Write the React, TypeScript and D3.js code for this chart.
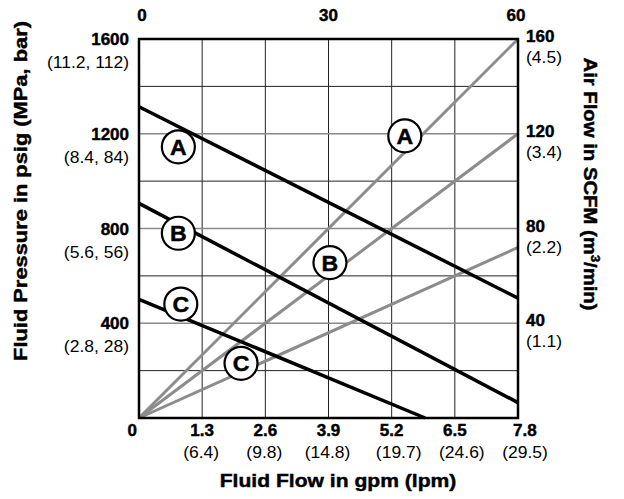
import React from "react";
import * as d3 from "d3";

const W = 624;
const H = 499;

// Axis ticks / labels
const gpmTicks = [0, 1.3, 2.6, 3.9, 5.2, 6.5, 7.8];
const lpmLabels = ["", "(6.4)", "(9.8)", "(14.8)", "(19.7)", "(24.6)", "(29.5)"];
const psiTicks = [400, 800, 1200, 1600];
const mpaLabels = ["(2.8, 28)", "(5.6, 56)", "(8.4, 84)", "(11.2, 112)"];
const scfmTicks = [40, 80, 120, 160];
const m3Labels = ["(1.1)", "(2.2)", "(3.4)", "(4.5)"];
const topTicks = [0, 30, 60];

// Series: fluid pressure (psig) vs fluid flow (gpm)
const seriesNames = ["A", "B", "C"];
const pressureA: [number, number][] = [[0, 1314], [7.8, 506]];
const pressureB: [number, number][] = [[0, 906], [7.8, 65]];
const pressureC: [number, number][] = [[0, 501], [5.89, 0]];
// Series: air flow (SCFM) vs fluid flow (gpm)
const airA: [number, number][] = [[0, 0], [7.8, 160]];
const airB: [number, number][] = [[0, 0], [7.8, 120]];
const airC: [number, number][] = [[0, 0], [7.8, 72]];
// Label badges (gpm, psig)
const badgeLeft: [number, number][] = [[0.81, 1145], [0.81, 780], [0.86, 481]];
const badgeRight: [number, number][] = [[5.47, 1191], [3.93, 656], [2.1, 231]];

const FONT = "'Liberation Sans', Arial, Helvetica, sans-serif";

function T(props: {
  x: number; y: number; anchor?: string; size: number; bold?: boolean;
  sx?: number; rot?: number; children: React.ReactNode;
}) {
  const { x, y, anchor = "middle", size, bold = false, sx = 1, rot = 0, children } = props;
  return (
    <text
      transform={`translate(${x},${y}) rotate(${rot}) scale(${sx},1)`}
      textAnchor={anchor}
      fontSize={size}
      fontWeight={bold ? "bold" : "normal"}
      fontFamily={FONT}
      fill="#000"
      stroke={bold ? "#000" : "none"}
      strokeWidth={bold ? 0.45 : 0}
    >
      {children}
    </text>
  );
}

export default function App() {
  const x = d3.scaleLinear().domain([0, 7.8]).range([139, 518]);
  const yP = d3.scaleLinear().domain([0, 1600]).range([418, 39]);
  const yA = d3.scaleLinear().domain([0, 160]).range([418, 39]);
  const xTop = d3.scaleLinear().domain([0, 60]).range([139, 518]);

  const lineP = d3.line<[number, number]>().x((d) => x(d[0])).y((d) => yP(d[1]));
  const lineA = d3.line<[number, number]>().x((d) => x(d[0])).y((d) => yA(d[1]));

  const hGrid = d3.range(200, 1600, 200);
  const vGrid = gpmTicks.slice(1, -1);

  return (
    <svg width={W} height={H} style={{ position: "absolute", left: 0, top: 0, background: "#fff" }}>
      <rect x={0} y={0} width={W} height={H} fill="#fff" />
      {/* vertical grid */}
      {vGrid.map((g) => (
        <line key={"v" + g} x1={x(g)} x2={x(g)} y1={yP(0)} y2={yP(1600)} stroke="#222" strokeWidth={1} />
      ))}
      {/* horizontal grid */}
      {hGrid.map((g) => (
        <line
          key={"h" + g}
          x1={x(0)} x2={x(7.8)} y1={yP(g)} y2={yP(g)}
          stroke={g % 400 === 0 ? "#8a8a8a" : "#222"}
          strokeWidth={g % 400 === 0 ? 1.6 : 1}
        />
      ))}
      {/* air flow lines (gray) */}
      {[airA, airB, airC].map((d, i) => (
        <path key={"a" + i} d={lineA(d) || ""} stroke="#8c8c8c" strokeWidth={3} fill="none" />
      ))}
      {/* pressure lines (black) */}
      {[pressureA, pressureB, pressureC].map((d, i) => (
        <path key={"p" + i} d={lineP(d) || ""} stroke="#000" strokeWidth={3.5} fill="none" />
      ))}
      {/* border */}
      <rect x={x(0)} y={yP(1600)} width={x(7.8) - x(0)} height={yP(0) - yP(1600)} fill="none" stroke="#000" strokeWidth={2.5} />
      {/* badges */}
      {[...badgeLeft, ...badgeRight].map((b, i) => (
        <g key={"b" + i}>
          <circle cx={x(b[0])} cy={yP(b[1])} r={16.5} fill="#fff" stroke="#000" strokeWidth={2.2} />
          <T x={x(b[0])} y={yP(b[1]) + 8} size={22} bold sx={1.05}>{seriesNames[i % 3]}</T>
        </g>
      ))}
      {/* bottom axis */}
      {gpmTicks.map((t, i) => (
        <T
          key={"bt" + i}
          x={i === 0 ? x(t) - 2 : i === gpmTicks.length - 1 ? x(t) - 5 : x(t)}
          y={436}
          anchor={i === 0 ? "end" : i === gpmTicks.length - 1 ? "start" : "middle"}
          size={17}
          bold
        >
          {String(t)}
        </T>
      ))}
      {lpmLabels.map((l, i) =>
        l ? (
          <T key={"bl" + i} x={x(gpmTicks[i]) + (i >= 4 ? 7 : -1)} y={458} size={16.5} sx={1.06}>
            {l}
          </T>
        ) : null
      )}
      <T x={338} y={487} size={19} bold sx={1.11}>Fluid Flow in gpm (lpm)</T>
      {/* top axis */}
      {topTicks.map((t, i) => (
        <T key={"tt" + i} x={xTop(t) + (i === 0 ? 3 : i === 2 ? -2 : 0)} y={20.5} size={17} bold>
          {String(t)}
        </T>
      ))}
      {/* left axis */}
      {psiTicks.map((t, i) => (
        <g key={"lt" + i}>
          <T x={129} y={yP(t) + 6} anchor="end" size={17} bold>{String(t)}</T>
          <T x={129} y={yP(t) + 29} anchor="end" size={16.5} sx={1.06}>{mpaLabels[i]}</T>
        </g>
      ))}
      <T x={27} y={191} size={19} bold sx={1.15} rot={-90}>Fluid Pressure in psig (MPa, bar)</T>
      {/* right axis */}
      {scfmTicks.map((t, i) => (
        <g key={"rt" + i}>
          <T x={526} y={yA(t) + 3} anchor="start" size={17} bold>{String(t)}</T>
          <T x={526} y={yA(t) + 24} anchor="start" size={16.5} sx={1.06}>{m3Labels[i]}</T>
        </g>
      ))}
      <T x={584} y={184} size={19} bold sx={1.07} rot={90}>
        Air Flow in SCFM (m<tspan fontSize={12} dy={-7}>3</tspan><tspan dy={7}>/min)</tspan>
      </T>
    </svg>
  );
}
